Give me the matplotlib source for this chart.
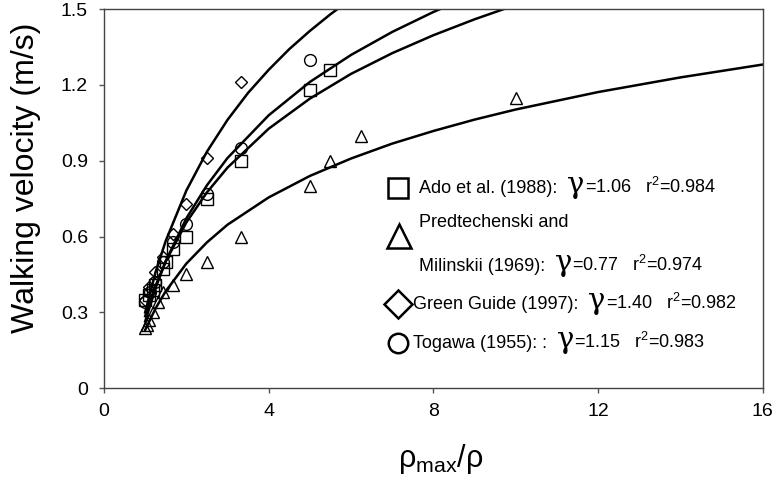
import matplotlib
matplotlib.use('Agg')
import matplotlib.pyplot as plt
from matplotlib.offsetbox import TextArea, HPacker, DrawingArea, AnnotationBbox
from matplotlib.lines import Line2D

plt.rcParams['font.family'] = ['Liberation Sans', 'DejaVu Sans']
plt.rcParams['mathtext.fontset'] = 'custom'
plt.rcParams['mathtext.rm'] = 'Liberation Sans'

# measured points (rho_max/rho, walking velocity m/s)
ado_x = [1.0, 1.1, 1.2, 1.25, 1.43, 1.5, 1.67, 2.0, 2.5, 3.33, 5.0, 5.5]
ado_y = [0.35, 0.37, 0.39, 0.41, 0.47, 0.50, 0.55, 0.60, 0.75, 0.90, 1.18, 1.26]

pred_x = [1.0, 1.05, 1.1, 1.2, 1.3, 1.43, 1.67, 2.0, 2.5, 3.33, 5.0, 5.5, 6.25, 10.0]
pred_y = [0.24, 0.25, 0.27, 0.30, 0.34, 0.38, 0.41, 0.45, 0.50, 0.60, 0.80, 0.90, 1.00, 1.15]

green_x = [1.0, 1.1, 1.25, 1.43, 1.67, 2.0, 2.5, 3.33]
green_y = [0.35, 0.40, 0.46, 0.52, 0.61, 0.73, 0.91, 1.21]

togawa_x = [1.0, 1.11, 1.25, 1.43, 1.67, 2.0, 2.5, 3.33, 5.0]
togawa_y = [0.34, 0.38, 0.42, 0.50, 0.58, 0.65, 0.77, 0.95, 1.30]

# fitted curves
ado_fit_x = [1, 1.25, 1.5, 2, 2.5, 3, 4, 5, 6, 7, 8, 9, 10]
ado_fit_y = [0.285, 0.404, 0.502, 0.656, 0.775, 0.873, 1.027, 1.146, 1.244, 1.326, 1.397, 1.460, 1.517]

pred_fit_x = [1, 1.25, 1.5, 2, 2.5, 3, 4, 5, 6, 7, 8, 9, 10, 12, 14, 16]
pred_fit_y = [0.23, 0.315, 0.384, 0.493, 0.577, 0.647, 0.755, 0.840, 0.909, 0.968,
              1.018, 1.063, 1.103, 1.172, 1.230, 1.281]

green_fit_x = [1, 1.25, 1.5, 2, 2.5, 3, 3.5, 4, 4.5, 5, 5.5, 6]
green_fit_y = [0.30, 0.458, 0.583, 0.782, 0.936, 1.062, 1.169, 1.260, 1.342, 1.414, 1.480, 1.540]

togawa_fit_x = [1, 1.25, 1.5, 2, 2.5, 3, 4, 5, 6, 7, 8, 8.5]
togawa_fit_y = [0.264, 0.395, 0.503, 0.672, 0.803, 0.911, 1.080, 1.212, 1.319, 1.410, 1.489, 1.524]

labels = ['Ado et al. (1988):  ', 'Milinskii (1969):  ', 'Green Guide (1997):  ', 'Togawa (1955): :  ']
gammas = ['1.06', '0.77', '1.40', '1.15']
r2s = ['0.984', '0.974', '0.982', '0.983']

fig = plt.figure(figsize=(7.76, 4.84), dpi=100)
ax = fig.add_axes([0.134, 0.198, 0.849, 0.783])

pt_kw = dict(linestyle='none', mfc='none', mec='black', mew=1.0, zorder=3)
ax.plot(ado_x, ado_y, marker='s', ms=8.5, **pt_kw)
ax.plot(pred_x, pred_y, marker='^', ms=8, **pt_kw)
ax.plot(green_x, green_y, marker='D', ms=6.5, **pt_kw)
ax.plot(togawa_x, togawa_y, marker='o', ms=8.5, **pt_kw)

for fx, fy in [(ado_fit_x, ado_fit_y), (pred_fit_x, pred_fit_y),
               (green_fit_x, green_fit_y), (togawa_fit_x, togawa_fit_y)]:
    ax.plot(fx, fy, color='black', lw=1.8, zorder=2)

ax.set_xlim(0, 16)
ax.set_ylim(0, 1.5)
ax.set_xticks([0, 4, 8, 12, 16])
ax.set_xticklabels(['0', '4', '8', '12', '16'])
ax.set_yticks([0, 0.3, 0.6, 0.9, 1.2, 1.5])
ax.set_yticklabels(['0', '0.3', '0.6', '0.9', '1.2', '1.5'])
ax.tick_params(axis='both', labelsize=14, length=3.5, width=1, color='#555555')
ax.tick_params(axis='y', pad=8)
ax.tick_params(axis='x', pad=7)
for sp in ax.spines.values():
    sp.set_color('#444444')
    sp.set_linewidth(1)

ax.set_ylabel('Walking velocity (m/s)', fontsize=23)
ax.yaxis.set_label_coords(-0.096, 0.554)
ax.set_xlabel('ρ$_\\mathregular{max}$/ρ', fontsize=22)
ax.xaxis.set_label_coords(0.511, -0.142)


def marker_box(marker, ms):
    da = DrawingArea(30, 30, 0, 0)
    da.add_artist(Line2D([15], [15], marker=marker, ms=ms, mfc='none', mec='black', mew=1.8))
    return da


def text_row(name, gamma, r2):
    return [TextArea(name, textprops=dict(fontsize=13)),
            TextArea('γ', textprops=dict(fontsize=21, family='DejaVu Serif')),
            TextArea('=' + gamma + '   r$^{2}$=' + r2, textprops=dict(fontsize=13))]


def place(box, px, py):
    ab = AnnotationBbox(box, ((px - 104) / 659, (388 - py) / 379), xycoords='axes fraction',
                        box_alignment=(0, 0.5), frameon=False, pad=0)
    ax.add_artist(ab)


# legend, drawn by hand to keep the mixed font sizes
place(marker_box('s', 15), 377, 188)
place(HPacker(children=text_row(labels[0], gammas[0], r2s[0]), align='baseline', pad=0, sep=0), 419, 185)

place(marker_box('^', 17), 378, 236)
place(TextArea('Predtechenski and', textprops=dict(fontsize=13)), 419, 222)
place(HPacker(children=text_row(labels[1], gammas[1], r2s[1]), align='baseline', pad=0, sep=0), 419, 263)

place(marker_box('D', 14), 377, 304)
place(HPacker(children=text_row(labels[2], gammas[2], r2s[2]), align='baseline', pad=0, sep=0), 413, 301)

place(marker_box('o', 14), 377, 343)
place(HPacker(children=text_row(labels[3], gammas[3], r2s[3]), align='baseline', pad=0, sep=0), 413, 340)

fig.savefig('out.png', dpi=100)
